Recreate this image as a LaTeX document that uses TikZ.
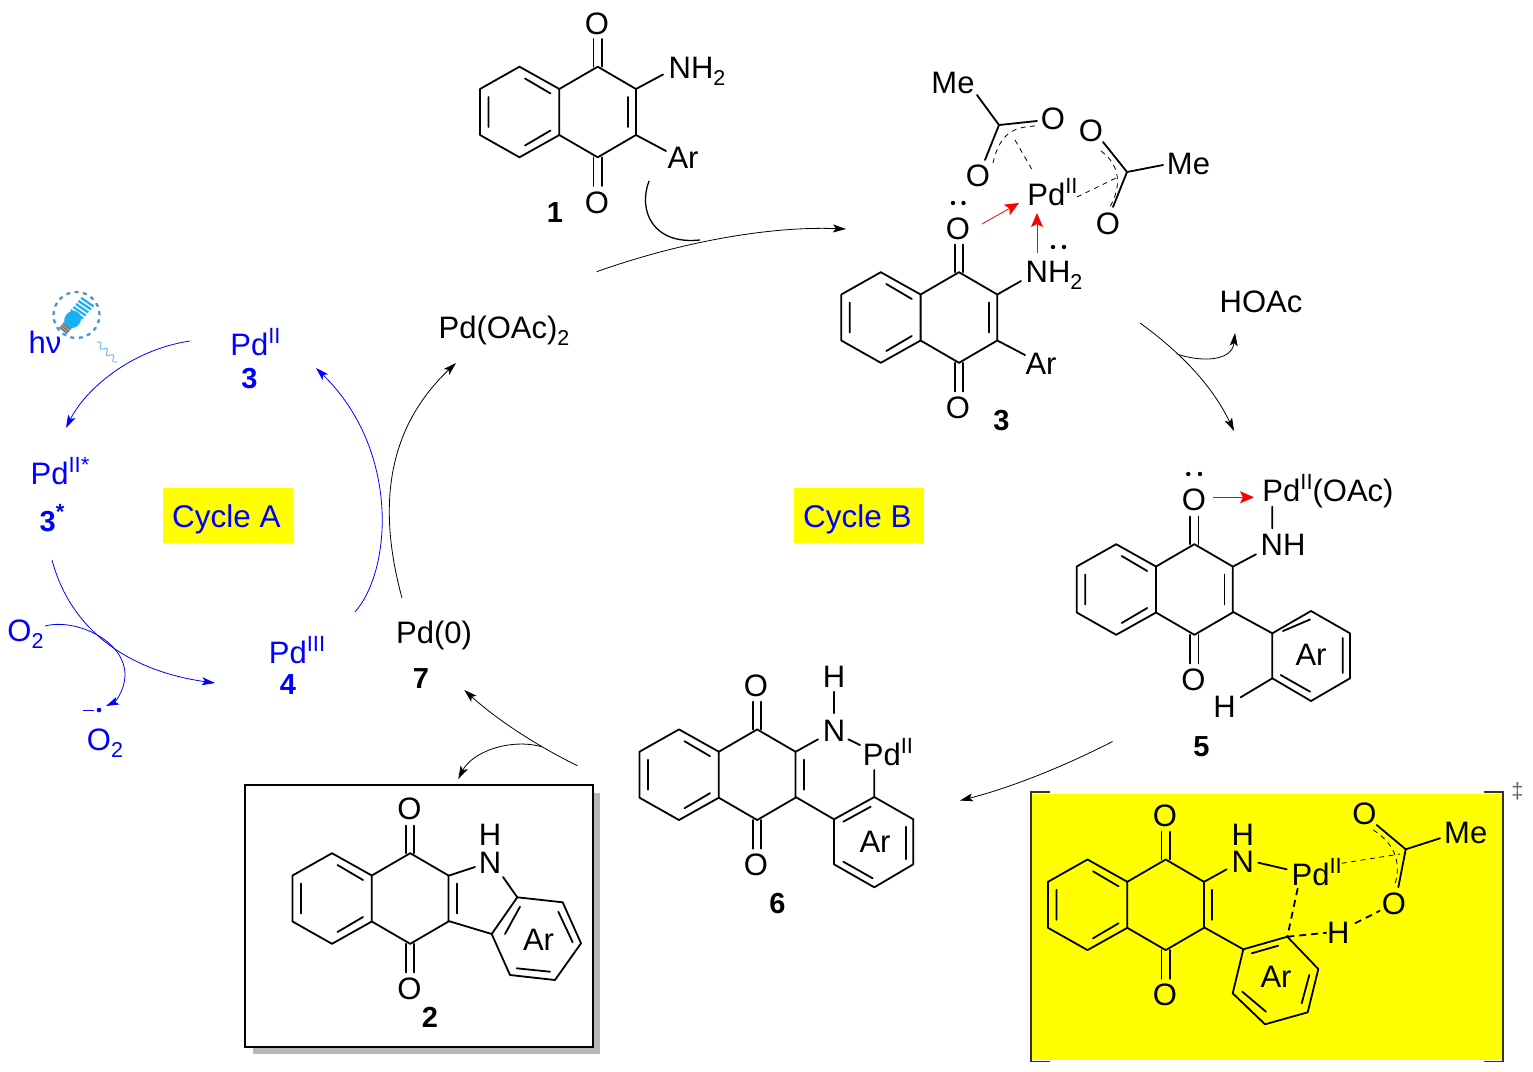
\documentclass[tikz,border=0pt]{standalone}
\usepackage{fontspec}
\setmainfont{Liberation Sans}
\usetikzlibrary{arrows.meta,decorations.pathmorphing}
\definecolor{pureyellow}{RGB}{255,255,0}
\definecolor{purered}{RGB}{255,0,0}
\definecolor{pureblue}{RGB}{0,0,255}
\definecolor{lampcyan}{RGB}{25,175,245}
\definecolor{lampring}{RGB}{60,150,215}
\definecolor{lampwave}{RGB}{110,180,240}
\newcommand\up[1]{\raisebox{0.4em}{\fontsize{22}{22}\selectfont #1}}
\newcommand\dn[1]{\raisebox{-0.22em}{\fontsize{21.5}{22}\selectfont #1}}
\tikzset{
  x=1pt,y=-1pt,
  txt/.style={inner sep=0pt,font=\fontsize{31}{33}\selectfont},
  num/.style={inner sep=0pt,font=\fontsize{29}{31}\selectfont\bfseries},
  bluetxt/.style={txt,text=pureblue},
  bluenum/.style={num,text=pureblue},
  bond/.style={line width=1.8pt,line join=round,line cap=round},
  dbond/.style={line width=1.8pt,dash pattern=on 7pt off 5pt},
  dl/.style={line width=0.8pt,dash pattern=on 5pt off 4.5pt},
  rxn/.style={line width=0.8pt,-{Stealth[length=13pt,width=8pt,inset=3pt]}},
  rxnb/.style={rxn,pureblue},
  redarr/.style={line width=0.8pt,purered,-{Stealth[length=14pt,width=12pt,inset=3pt]}},
  lp/.style={fill=black,circle,inner sep=0pt,minimum size=4.4pt},
  cyclebox/.style={fill=pureyellow,text=pureblue,minimum width=130pt,minimum height=55pt,inner sep=0pt,text height=23pt,text depth=0pt,font=\fontsize{31.5}{33}\selectfont},
}
\newcommand\nq[3]{%
\begin{scope}[shift={(#1,#2)}]
\draw[bond] (519.5,66.7)--(480,89)--(480,135)--(519.5,157.3)--(559.3,135)--(559.3,89)--cycle;
\draw[bond] (559.3,89)--(597.7,66.7)--(636,89)--(636,135)--(597.7,157.3)--(559.3,135);
\draw[bond] (488.5,97)--(488.5,127) (525,78.5)--(550.5,93.5) (525,145.5)--(550.5,130.5);
\draw[bond] (636+#3*8.3,97)--(636+#3*8.3,127);
\draw[bond] (593.5,66.7)--(593.5,39) (601.7,66.7)--(601.7,39) (593.5,157.3)--(593.5,186) (601.7,157.3)--(601.7,186);
\end{scope}}
\begin{document}
\begin{tikzpicture}
\useasboundingbox (0,0) rectangle (1533,1071);
\fill[white] (0,0) rectangle (1533,1071);

%% yellow transition state panel
\fill[pureyellow] (1032,793.5) rectangle (1503,1060);
\draw[line width=1.8pt,black!80] (1050,791.7)--(1031,791.7)--(1031,1061.5)--(1050,1061.5);
\draw[line width=1.8pt,black!80] (1484,791.7)--(1503.3,791.7)--(1503.3,1061.5)--(1484,1061.5);
\node[inner sep=0pt,text=black!60,font=\fontsize{22}{24}\selectfont] (ddag) at (1517.5,791) {‡};

%% product box
\fill[black!28] (253,793) rectangle (600,1054);
\draw[line width=2pt,fill=white] (245,785) rectangle (593,1047);

%% naphthoquinones
\nq{0}{0}{-1}
\nq{361.3}{205.5}{-1}
\nq{596.7}{477.5}{-1}
\nq{159.5}{662.7}{1}
\nq{-187.5}{786.5}{1}
\nq{568}{792.8}{1}

%% compound 1
\node[txt] (m1otop) at (597,24) {O};
\node[txt] (m1obot) at (597,203) {O};
\node[txt] (m1nh) at (697,71) {NH\dn{2}};
\node[txt] (m1ar) at (683,158) {Ar};
\node[num] (m1num) at (555,213) {1};
\draw[bond] (636,89)--(663,74.5) (636,135)--(666,151);

%% compound 3
\node[txt] (m3otop) at (958,229) {O};
\node[txt] (m3obot) at (958,408) {O};
\node[txt] (m3nh) at (1054,275) {NH\dn{2}};
\node[txt] (m3ar) at (1041,364) {Ar};
\node[num] (m3num) at (1001.5,421) {3};
\node[txt] (m3pd) at (1052.5,192) {Pd\up{II}};
\node[txt] (m3me1) at (953,83) {Me};
\node[txt] (m3o1) at (1053,119) {O};
\node[txt] (m3o2) at (978,176) {O};
\node[txt] (m3o3) at (1091,131) {O};
\node[txt] (m3me2) at (1188.5,164) {Me};
\node[txt] (m3o4) at (1108,224) {O};
\draw[bond] (997.3,294.5)--(1021,281) (997.3,340.5)--(1025,355);
\draw[bond] (977,95)--(999,125)--(1037,121) (999,125)--(985,160);
\draw[dl] (1035,126) .. controls (1015,127) and (1000,132) .. (993,163);
\draw[dl] (1015,140)--(1034,173);
\draw[bond] (1163,165)--(1127,172)--(1103,142) (1127,172)--(1113,207);
\draw[dl] (1101,151) .. controls (1120,165) and (1122,185) .. (1110,207);
\draw[dl] (1077,197)--(1118,177);
\node[lp] (lp1) at (953,203) {};
\node[lp] (lp2) at (963.5,203) {};
\node[lp] (lp3) at (1053,247) {};
\node[lp] (lp4) at (1064,247) {};
\coordinate (r1a) at (982,224);
\coordinate (r1b) at (1019,203);
\coordinate (r2a) at (1037,253);
\coordinate (r2b) at (1037,213);
\draw[redarr] (r1a)--(r1b);
\draw[redarr] (r2a)--(r2b);

%% compound 5
\node[txt] (m5otop) at (1194,500) {O};
\node[txt] (m5obot) at (1193.5,680) {O};
\node[txt] (m5pd) at (1328,491) {Pd\up{II}(OAc)};
\node[txt] (m5nh) at (1283,545) {NH};
\node[txt] (m5ar) at (1311,655) {Ar};
\node[txt] (m5h) at (1224.5,707) {H};
\node[num] (m5num) at (1201.5,747) {5};
\draw[bond] (1232.7,566.7)--(1256,554.3) (1272.3,506.7)--(1272.3,528.3);
\draw[bond] (1232.7,611.7)--(1272.3,633.3);
\draw[bond] (1272.3,633.3)--(1311,611)--(1350,633.3)--(1350,678.3)--(1311,701)--(1272.3,678.3)--cycle;
\draw[bond] (1272.3,678.3)--(1240.7,697.3);
\draw[bond] (1283,631)--(1310,619.5) (1342.7,638)--(1342.7,673) (1280.7,675)--(1310,691.7);
\node[lp] (lp5) at (1188.3,474) {};
\node[lp] (lp6) at (1200,474) {};
\coordinate (r3a) at (1213,497.3);
\coordinate (r3b) at (1254,497.3);
\draw[redarr] (r3a)--(r3b);

%% compound 6
\node[txt] (m6otop) at (756,686) {O};
\node[txt] (m6obot) at (756,865) {O};
\node[txt] (m6n) at (834,731) {N};
\node[txt] (m6h) at (834,677) {H};
\node[txt] (m6pd) at (888,752) {Pd\up{II}};
\node[txt] (m6ar) at (875,842) {Ar};
\node[num] (m6num) at (777.5,904) {6};
\draw[bond] (795.7,751.7)--(818,739.3) (834,691.7)--(834,713.3) (848.3,739.3)--(860,745) (874.3,770)--(874.3,797);
\draw[bond] (795.7,797)--(834,819.3);
\draw[bond] (834,819.3)--(874.3,797)--(913.3,819.3)--(913.3,864.3)--(874.3,887.3)--(834,864.3)--cycle;
\draw[bond] (843.3,821.7)--(870.7,806.7) (906,826.7)--(906,859.3) (843.3,861.7)--(872.7,878.3);

%% compound 2
\node[txt] (m2otop) at (409.5,809) {O};
\node[txt] (m2obot) at (409.5,989) {O};
\node[txt] (m2n) at (490,863) {N};
\node[txt] (m2h) at (490,835) {H};
\node[txt] (m2ar) at (538.5,940) {Ar};
\node[num] (m2num) at (430,1017) {2};
\draw[bond] (448.5,875.7)--(475,867) (503,877)--(517.3,897.3);
\draw[bond] (448.5,921)--(491.7,934);
\draw[bond] (491.7,934)--(517.3,897.3)--(562.7,902.3)--(581,943.3)--(555,980)--(510,975)--cycle;
\draw[bond] (505,934)--(520,906.7) (558.3,911.7)--(572.7,942.3) (516.7,968.3)--(550,971.7);

%% transition state
\node[txt] (tsotop) at (1165,816) {O};
\node[txt] (tsobot) at (1165,995) {O};
\node[txt] (tsn) at (1242.7,862) {N};
\node[txt] (tsh) at (1242.7,834.5) {H};
\node[txt] (tspd) at (1316.7,872) {Pd\up{II}};
\node[txt] (tsar) at (1276,977) {Ar};
\node[txt] (tsh2) at (1338.3,933) {H};
\node[txt] (tso1) at (1394,904) {O};
\node[txt] (tso2) at (1364.3,814.3) {O};
\node[txt] (tsme) at (1465.7,833) {Me};
\draw[bond] (1204.3,881.7)--(1226.7,869.3) (1258.3,862.7)--(1286.7,869.3);
\draw[bond] (1204,927.3)--(1243.3,949.3);
\draw[bond] (1243.3,949.3)--(1287.3,936.7)--(1318.3,969)--(1307.7,1012.3)--(1265,1024.3)--(1232.7,993.3)--cycle;
\draw[bond] (1251.7,953.3)--(1278.3,945.7) (1301.7,1003.3)--(1309.3,975) (1242.3,991.7)--(1266,1011.7);
\draw[dbond] (1297.7,888.3)--(1287.3,936.7);
\draw[dbond] (1287.3,936.7)--(1326.7,932.7);
\draw[dbond] (1355,923.3)--(1380,910.7);
\draw[bond] (1376.7,825)--(1405.7,849.3)--(1440,838.3) (1405.7,849.3)--(1398.3,887.3);
\draw[dl] (1373.3,830) .. controls (1393,843) and (1402,860) .. (1395,884);
\draw[dl] (1341.7,863.3)--(1400,854);

%% reaction arrows, black
\node[txt] (pdoac) at (504,331) {Pd(OAc)\dn{2}};
\node[txt] (hoac) at (1261,302) {HOAc};
\node[txt] (pd0) at (434,635.5) {Pd(0)};
\node[num] (n7) at (421,679) {7};
\coordinate (a1s) at (596.7,271.7);
\coordinate (a1e) at (846,229);
\coordinate (a1j) at (700,240);
\coordinate (a1h) at (649,181);
\draw[rxn] (a1s) .. controls (680,242) and (770,226) .. (a1e);
\draw[line width=1.3pt] (a1h) .. controls (638,210) and (652,245) .. (a1j);
\coordinate (a2s) at (1140,323);
\coordinate (a2e) at (1234,431);
\coordinate (a2j) at (1177,354);
\coordinate (a2h) at (1235,333);
\draw[rxn] (a2s) .. controls (1180,352) and (1212,385) .. (a2e);
\draw[rxn] (a2j) .. controls (1200,362) and (1232,362) .. (a2h);
\coordinate (a3s) at (1112.5,741.5);
\coordinate (a3e) at (960,800.5);
\draw[rxn] (a3s) .. controls (1065,766) and (1010,788) .. (a3e);
\coordinate (a4s) at (577.5,765.7);
\coordinate (a4e) at (464.3,690);
\coordinate (a4j) at (541.7,746.7);
\coordinate (a4h) at (458.3,779);
\draw[rxn] (a4s) .. controls (535,745) and (495,718) .. (a4e);
\draw[rxn] (a4j) .. controls (510,738) and (472,752) .. (a4h);
\coordinate (a5s) at (402,598);
\coordinate (a5e) at (456,363);
\draw[rxn] (a5s) .. controls (378,510) and (385,430) .. (a5e);

%% cycle A
\node[bluetxt] (pd2) at (255.5,342) {Pd\up{II}};
\node[bluenum] (n3) at (249.5,379) {3};
\node[bluetxt] (hv) at (45,342) {hν};
\node[bluetxt] (pdstar) at (60,471) {Pd\up{II*}};
\node[bluenum] (n3s) at (52,518) {3\up{\bfseries*}};
\node[bluetxt] (pd3) at (297,650) {Pd\up{III}};
\node[bluenum] (n4) at (288,685) {4};
\node[bluetxt] (o2a) at (25.5,634) {O\dn{2}};
\node[bluetxt] (o2b) at (105,743) {O\dn{2}};
\coordinate (b1s) at (190,341);
\coordinate (b1e) at (66,428);
\draw[rxnb] (b1s) .. controls (130,350) and (85,390) .. (b1e);
\coordinate (b2s) at (52,560);
\coordinate (b2e) at (215,683);
\draw[rxnb] (b2s) .. controls (72,635) and (135,672) .. (b2e);
\coordinate (b3s) at (45,626);
\coordinate (b3e) at (106,706);
\draw[rxnb] (b3s) .. controls (75,618) and (125,640) .. (125,675) .. controls (125,690) and (115,702) .. (b3e);
\coordinate (b4s) at (355,612);
\coordinate (b4e) at (316,368);
\draw[rxnb] (b4s) .. controls (392,570) and (400,450) .. (b4e);
\node[fill=pureblue,circle,inner sep=0pt,minimum size=4.6pt] (rad) at (99,710) {};
\coordinate (minusa) at (83,710);
\coordinate (minusb) at (94,710);
\draw[pureblue,line width=1pt] (minusa)--(minusb);

%% lamp
\node[circle,draw=lampring,line width=2.2pt,dash pattern=on 4pt off 4.5pt,minimum size=46pt,inner sep=0pt] (lamp) at (76.5,315) {};
\begin{scope}[shift={(63,331)},rotate=50]
\fill[black!55] (0,-5) rectangle (8,5);
\foreach \k in {2,4.5,7}{\draw[black!25,line width=0.6pt] (\k,-5)--(\k,5);}
\fill[lampcyan] (15,0) ellipse (9pt and 8pt);
\foreach \k in {21,25,29,33,37}{\draw[lampcyan,line width=2.2pt] (\k,-7.5)--(\k+1.5,7.5);}
\end{scope}
\coordinate (wa) at (97,342);
\coordinate (wb) at (117,362);
\draw[lampwave,line width=0.9pt,decorate,decoration={snake,amplitude=2.5pt,segment length=9pt}] (wa)--(wb);

%% cycle labels
\node[cyclebox] (cyca) at (228,515.5) {Cycle A\hspace*{3pt}};
\node[cyclebox] (cycb) at (859,515.5) {Cycle B\hspace*{3pt}};
\end{tikzpicture}
\end{document}
